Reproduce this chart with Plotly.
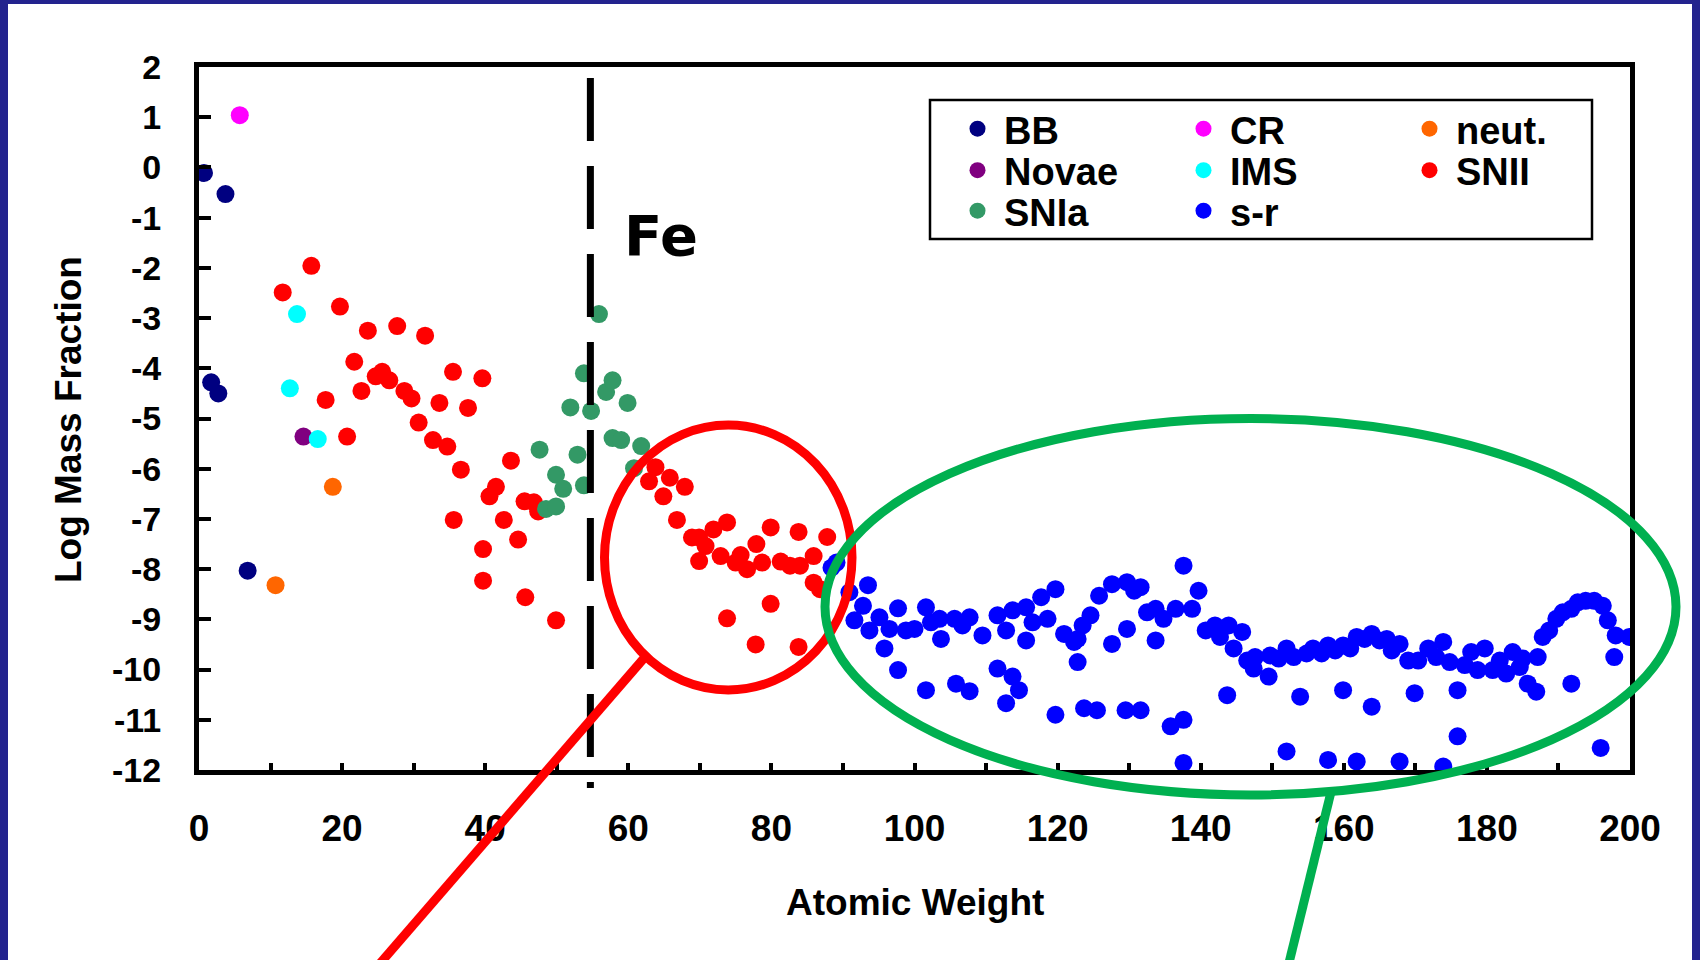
import plotly.graph_objects as go

# ---------------- data ----------------
BB_X = [0.7, 3.7, 1.7, 2.7, 6.8]
BB_Y = [-0.11, -0.53, -4.28, -4.50, -8.03]

CR_X = [5.7]
CR_Y = [1.04]

NEUT_X = [18.7, 10.7]
NEUT_Y = [-6.36, -8.32]

NOVAE_X = [14.6]
NOVAE_Y = [-5.36]

IMS_X = [13.7, 12.7, 16.6]
IMS_Y = [-2.92, -4.40, -5.41]

SNII_X = [15.7, 11.7, 19.7, 23.6, 27.7, 31.6, 21.7, 24.7, 25.6, 26.6, 22.7, 17.7, 28.7, 29.7,
          35.5, 39.6, 33.6, 37.6, 30.7, 32.7, 34.7, 20.7,
          36.6, 43.6, 41.5, 40.6, 45.5, 46.8, 47.4, 35.6, 42.6, 44.6, 39.7, 39.7, 45.6, 49.9,
          63.8, 62.9, 65.8, 67.9, 64.9, 66.8, 73.8, 71.9, 68.9, 69.9, 79.9, 83.8, 87.8, 77.9,
          70.8, 72.9, 69.9, 75.7, 75.0, 76.6, 78.7, 81.3, 82.6, 84.0, 85.9, 85.9, 86.8, 79.9,
          73.8, 77.8, 83.8]
SNII_Y = [-1.96, -2.49, -2.77, -3.25, -3.16, -3.35, -3.87, -4.16, -4.07, -4.24, -4.45, -4.63, -4.45, -4.60,
          -4.07, -4.20, -4.69, -4.79, -5.08, -5.43, -5.56, -5.36,
          -6.02, -5.84, -6.36, -6.55, -6.65, -6.67, -6.85, -7.02, -7.02, -7.41, -7.60, -8.23, -8.56, -9.02,
          -5.97, -6.25, -6.18, -6.36, -6.55, -7.02, -7.07, -7.21, -7.37, -7.37, -7.17, -7.26, -7.36, -7.50,
          -7.54, -7.74, -7.84, -7.72, -7.87, -8.00, -7.87, -7.85, -7.93, -7.93, -7.74, -8.27, -8.40, -8.69,
          -8.98, -9.50, -9.55]

SNIA_X = [47.6, 48.5, 49.9, 49.9, 50.9, 51.9, 52.9, 53.8, 53.8, 54.8, 55.9, 56.9, 57.8, 57.8,
          59.0, 59.9, 60.8, 61.8]
SNIA_Y = [-5.62, -6.80, -6.75, -6.12, -6.40, -4.78, -5.72, -4.10, -6.33, -4.85, -2.92, -4.47, -4.24, -5.39,
          -5.43, -4.69, -5.99, -5.55]

SR_X = [88.4, 89.1, 90.9, 91.6, 92.8, 93.5, 93.7, 95.1, 95.8, 96.5, 97.7, 97.7, 98.8, 100.0,
        101.6, 101.6, 102.3, 103.5, 103.7, 105.6, 105.8, 106.7, 107.7, 107.7, 109.5, 111.6, 111.6,
        112.8, 112.8, 113.7, 113.7, 114.6, 115.6, 115.6, 116.5, 117.7, 118.6, 119.7, 119.7, 120.9,
        122.3, 122.8, 122.8, 123.5, 123.7, 124.6, 125.5, 125.8, 127.6, 127.6, 129.5, 129.7, 129.7,
        130.7, 131.6, 131.6, 132.5, 133.7, 133.7, 134.8, 135.8, 136.5, 137.6, 137.6, 137.6, 138.8,
        139.7, 140.7, 142.0, 142.7, 143.7, 143.9, 144.6, 145.8, 146.5, 147.4, 147.6, 149.5, 149.7,
        150.9, 152.0, 152.0, 153.0, 153.9, 154.8, 155.7, 156.9, 157.8, 157.8, 158.8, 159.9, 159.9,
        160.9, 161.8, 161.8, 162.9, 163.9, 163.9, 165.0, 166.0, 166.7, 167.8, 167.8, 169.0, 169.9,
        170.4, 171.8, 172.9, 173.9, 173.9, 174.8, 175.9, 175.9, 176.9, 177.8, 178.7, 179.7, 180.8,
        181.8, 182.7, 183.6, 184.6, 185.0, 185.7, 186.9, 187.1, 187.8, 188.7, 189.7, 190.6, 191.8,
        191.8, 192.7, 193.8, 195.0, 195.9, 196.2, 196.9, 197.8, 198.0, 199.9]
SR_Y = [-7.97, -7.87, -8.46, -9.02, -8.73, -8.32, -9.22, -8.96, -9.58, -9.19, -8.78, -10.01, -9.22, -9.19,
        -8.76, -10.41, -9.06, -8.99, -9.39, -8.99, -10.28, -9.12, -8.96, -10.43, -9.32, -8.92, -9.98,
        -9.22, -10.67, -8.82, -10.14, -10.41, -8.76, -9.42, -9.06, -8.56, -8.99, -8.40, -10.90, -9.29,
        -9.45, -9.39, -9.85, -9.12, -10.77, -8.92, -10.81, -8.53, -8.30, -9.49, -10.81, -8.26, -9.19,
        -8.43, -8.36, -10.81, -8.86, -8.79, -9.42, -8.99, -11.13, -8.79, -7.93, -11.00, -11.86, -8.79,
        -8.43, -9.22, -9.12, -9.35, -10.51, -9.12, -9.58, -9.25, -9.82, -9.98, -9.75, -10.14, -9.72,
        -9.78, -9.58, -11.63, -9.75, -10.54, -9.68, -9.58, -9.68, -9.52, -11.80, -9.62, -9.52, -10.41,
        -9.58, -9.35, -11.83, -9.39, -9.29, -10.74, -9.42, -9.39, -9.62, -9.49, -11.83, -9.82, -10.47,
        -9.82, -9.58, -9.75, -9.45, -11.93, -9.85, -10.41, -11.33, -9.91, -9.65, -10.01, -9.58, -10.01,
        -9.82, -10.08, -9.65, -9.95, -9.78, -10.28, -10.44, -9.75, -9.35, -9.22, -8.99, -8.86, -8.79,
        -10.28, -8.66, -8.63, -8.63, -11.56, -8.73, -9.02, -9.75, -9.32, -9.35]

FE_X = 54.7   # position of the dashed "Fe" marker line

X_TICK_VALS = [0, 10, 20, 30, 40, 50, 60, 70, 80, 90, 100, 110, 120, 130, 140, 150, 160, 170, 180, 190, 200]
X_TICK_TEXT = ["0", "", "20", "", "40", "", "60", "", "80", "", "100", "", "120", "", "140", "",
               "160", "", "180", "", "200"]
Y_TICK_VALS = [-12, -11, -10, -9, -8, -7, -6, -5, -4, -3, -2, -1, 0, 1, 2]
Y_TICK_TEXT = ["-12", "-11", "-10", "-9", "-8", "-7", "-6", "-5", "-4", "-3", "-2", "-1", "0", "1", "2"]

SERIES = [
    ("BB", BB_X, BB_Y, "#000080", "legend"),
    ("CR", CR_X, CR_Y, "#ff00ff", "legend"),
    ("neut.", NEUT_X, NEUT_Y, "#ff6600", "legend"),
    ("Novae", NOVAE_X, NOVAE_Y, "#800080", "legend2"),
    ("IMS", IMS_X, IMS_Y, "#00ffff", "legend2"),
    ("SNII", SNII_X, SNII_Y, "#ff0000", "legend2"),
    ("SNIa", SNIA_X, SNIA_Y, "#339966", "legend3"),
    ("s-r", SR_X, SR_Y, "#0000ff", "legend3"),
]

# ---------------- layout geometry ----------------
W, H = 1700, 960
ML, MR, MT, MB = 199, 70, 67, 190
PW = W - ML - MR
PH = H - MT - MB


def px_x(p):
    return (p - ML) / PW


def px_y(p):
    return (H - MB - p) / PH


ARIAL = "Arial, Liberation Sans, sans-serif"
NAVY_FRAME = "#23238e"

fig = go.Figure()
for name, xs, ys, color, leg in SERIES:
    fig.add_trace(go.Scatter(
        x=xs, y=ys, mode="markers", name=name, legend=leg,
        marker=dict(size=18, color=color, line=dict(width=0)),
        hoverinfo="x+y+name",
    ))

legend_common = dict(
    orientation="h", xanchor="left", yanchor="top",
    bgcolor="rgba(0,0,0,0)", borderwidth=0,
    font=dict(family=ARIAL, size=38, color="black", weight="bold"),
    itemwidth=43, entrywidth=168, entrywidthmode="pixels",
)
LEG_X = px_x(951)
ROW_CENTERS = [129.5, 171, 211.5]

shapes = [
    # legend box
    dict(type="rect", xref="paper", yref="paper", layer="below",
         x0=px_x(930), x1=px_x(1592), y0=px_y(239), y1=px_y(100),
         line=dict(color="black", width=2.5), fillcolor="white"),
    # dashed Fe line
    dict(type="line", xref="x", yref="paper", layer="above",
         x0=FE_X, x1=FE_X, y0=px_y(78), y1=px_y(788),
         line=dict(color="black", width=7, dash="63px,25px")),
    # red circle + connector
    dict(type="circle", xref="paper", yref="paper", layer="above",
         x0=px_x(604.5), x1=px_x(852), y0=px_y(690), y1=px_y(425),
         line=dict(color="#ff0000", width=9)),
    dict(type="line", xref="paper", yref="paper", layer="above",
         x0=px_x(645), y0=px_y(657), x1=px_x(370), y1=px_y(975),
         line=dict(color="#ff0000", width=9)),
    # green ellipse + connector
    dict(type="circle", xref="paper", yref="paper", layer="above",
         x0=px_x(825), x1=px_x(1676), y0=px_y(795), y1=px_y(418.5),
         line=dict(color="#00b050", width=9)),
    dict(type="line", xref="paper", yref="paper", layer="above",
         x0=px_x(1331), y0=px_y(792), x1=px_x(1286), y1=px_y(975),
         line=dict(color="#00b050", width=9)),
    # slide frame
    dict(type="rect", xref="paper", yref="paper", layer="above",
         x0=px_x(4), x1=px_x(1696), y0=px_y(1010), y1=px_y(0),
         line=dict(color=NAVY_FRAME, width=8)),
]

annotations = [
    dict(text="Fe", xref="paper", yref="paper", x=px_x(661), y=px_y(235),
         xanchor="center", yanchor="middle", showarrow=False,
         font=dict(family="DejaVu Sans, sans-serif", size=56,
                   color="black", weight="bold")),
    dict(text="Atomic Weight", xref="paper", yref="paper", x=px_x(915), y=px_y(902),
         xanchor="center", yanchor="middle", showarrow=False,
         font=dict(family=ARIAL, size=37, color="black", weight="bold")),
    dict(text="Log Mass Fraction", xref="paper", yref="paper", x=px_x(68), y=px_y(420),
         xanchor="center", yanchor="middle", showarrow=False, textangle=-90,
         font=dict(family=ARIAL, size=37, color="black", weight="bold")),
]

fig.update_layout(
    width=W, height=H, autosize=False,
    margin=dict(l=ML, r=MR, t=MT, b=MB, autoexpand=False),
    paper_bgcolor="white", plot_bgcolor="white",
    showlegend=True,
    legend=dict(legend_common, x=LEG_X, y=px_y(ROW_CENTERS[0] - 32)),
    legend2=dict(legend_common, x=LEG_X, y=px_y(ROW_CENTERS[1] - 32)),
    legend3=dict(legend_common, x=LEG_X, y=px_y(ROW_CENTERS[2] - 32)),
    shapes=shapes,
    annotations=annotations,
    xaxis=dict(range=[0, 200], tickvals=X_TICK_VALS, ticktext=X_TICK_TEXT,
               ticks="inside", ticklen=7, tickwidth=4, tickcolor="black",
               showline=True, linewidth=5, linecolor="black", mirror=True,
               showgrid=False, zeroline=False, ticklabelstandoff=22,
               tickfont=dict(family=ARIAL, size=37, color="black", weight="bold")),
    yaxis=dict(range=[-12, 2], tickvals=Y_TICK_VALS, ticktext=Y_TICK_TEXT,
               ticks="inside", ticklen=12, tickwidth=4, tickcolor="black",
               showline=True, linewidth=5, linecolor="black", mirror=True,
               showgrid=False, zeroline=False, ticklabelstandoff=26,
               tickfont=dict(family=ARIAL, size=34, color="black", weight="bold")),
)

fig.write_html("out.html", config={"displayModeBar": False})
